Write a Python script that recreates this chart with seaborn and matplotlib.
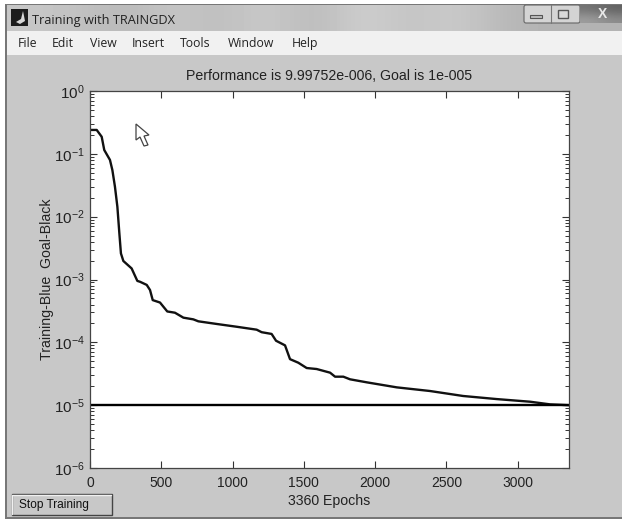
import numpy as np
import seaborn as sns
import pandas as pd
import matplotlib.pyplot as plt
from matplotlib.patches import Rectangle, Polygon, FancyBboxPatch

# values
epochs = [0, 47, 82, 100, 140, 157, 175, 192, 206, 217, 234, 292, 332, 351, 398, 421, 440, 491,
          542, 596, 655, 725, 760, 889, 1029, 1169, 1204, 1274, 1305, 1368, 1403, 1461, 1520,
          1590, 1684, 1719, 1777, 1824, 1941, 2152, 2385, 2617, 2853, 3087, 3227, 3360]
perf = [0.24, 0.24, 0.187, 0.115, 0.08, 0.055, 0.03, 0.0144, 0.0054, 0.0026, 0.00197, 0.0015,
        0.00095, 9.2e-4, 8.2e-4, 6.8e-4, 4.7e-4, 4.3e-4, 3.1e-4, 2.96e-4, 2.47e-4, 2.32e-4,
        2.16e-4, 1.96e-4, 1.77e-4, 1.59e-4, 1.45e-4, 1.36e-4, 1.06e-4, 8.95e-5, 5.4e-5, 4.74e-5,
        3.9e-5, 3.76e-5, 3.29e-5, 2.84e-5, 2.84e-5, 2.58e-5, 2.31e-5, 1.92e-5, 1.68e-5, 1.4e-5,
        1.25e-5, 1.135e-5, 1.03e-5, 9.99752e-6]
goal_x = [0, 3360]
goal_y = [1e-5, 1e-5]
xticks = [0, 500, 1000, 1500, 2000, 2500, 3000]
yticks = [1e-6, 1e-5, 1e-4, 1e-3, 1e-2, 1e-1, 1]
menu_names = ['File', 'Edit', 'View', 'Insert', 'Tools', 'Window', 'Help']
menu_x = [18, 52, 90, 132, 180, 228, 292]

sns.set_style('ticks')
plt.rcParams['font.family'] = ['Liberation Sans', 'DejaVu Sans']
plt.rcParams['mathtext.fontset'] = 'custom'
plt.rcParams['mathtext.rm'] = 'Liberation Sans'
plt.rcParams['mathtext.default'] = 'regular'

fig = plt.figure(figsize=(6.22, 5.21), dpi=100, facecolor='white')

# window chrome, drawn in pixel coordinates
bg = fig.add_axes([0, 0, 1, 1], zorder=0)
bg.axis('off')

bg.add_patch(Rectangle((5, 4), 617, 515, fc='#777777', ec='none', zorder=1))
bar = np.array([[0.78, 0.76, 0.72, 0.78, 0.74, 0.80, 0.72, 0.82, 0.76, 0.80, 0.72, 0.70, 0.70]])
bg.imshow(bar, cmap='gray', vmin=0, vmax=1, extent=(7, 622, 31, 5), aspect='auto', interpolation='bicubic', zorder=2)
bg.set_xlim(0, 622)
bg.set_ylim(521, 0)
bg.add_patch(Rectangle((7, 31), 615, 24, fc='#f1f1f1', ec='none', zorder=2))
bg.add_patch(Rectangle((7, 55), 615, 462, fc='#c8c8c8', ec='none', zorder=2))

bg.add_patch(Rectangle((11, 9), 17, 17, fc='#1c1c1c', ec='none', zorder=3))
bg.add_patch(Polygon([(16, 22), (21, 19), (23, 11), (25, 21), (20, 24)], fc='#d8d8d8', ec='none', zorder=4))
bg.text(32, 24, 'Training with TRAINGDX', fontsize=9.2, family='Open Sans', color='#222222', va='baseline', zorder=4)
for name, x in zip(menu_names, menu_x):
    bg.text(x, 47, name, fontsize=8.8, family='Open Sans', color='#222222', va='baseline', zorder=4)

# min / max / close buttons
bg.add_patch(FancyBboxPatch((524, 5), 56, 18, boxstyle='round,pad=0,rounding_size=2', fc='#d4d4d4', ec='#666666', lw=0.8, zorder=3))
bg.plot([551, 551], [5, 23], color='#777777', lw=0.8, zorder=4)
bg.add_patch(Rectangle((530, 15), 12, 3, fc='#bdbdbd', ec='#555555', lw=0.8, zorder=4))
bg.add_patch(Rectangle((558, 10), 10, 8, fc='#d8d8d8', ec='#555555', lw=1, zorder=4))
close = np.array([[0.45, 0.38], [0.62, 0.55]])
bg.imshow(close, cmap='gray', vmin=0, vmax=1, extent=(580, 622, 23, 5), aspect='auto', interpolation='bicubic', zorder=3)
bg.set_xlim(0, 622)
bg.set_ylim(521, 0)
bg.text(603, 13.5, 'X', fontsize=10, weight='bold', color='#e8e8e8', ha='center', va='center', zorder=4)

# stop button
bg.add_patch(Rectangle((12, 494), 100, 21, fc='#c8c8c8', ec='#444444', lw=1, zorder=3))
bg.plot([12, 12, 111], [514, 494.5, 494.5], color='#f0f0f0', lw=1, zorder=4)
bg.text(54, 505, 'Stop Training', fontsize=8.6, color='#111111', ha='center', va='center', zorder=4)

# main plot
left, right, top, bottom = 90, 569, 91, 468
ax = fig.add_axes([left / 622, 1 - bottom / 521, (right - left) / 622, (bottom - top) / 521], zorder=1)
ax.set_facecolor('white')
df = pd.DataFrame({'epoch': epochs, 'perf': perf})
sns.lineplot(data=df, x='epoch', y='perf', color='#111111', lw=1.7, ax=ax, errorbar=None, estimator=None)
sns.lineplot(x=goal_x, y=goal_y, color='#000000', lw=1.7, ax=ax, errorbar=None, estimator=None)
ax.set_yscale('log')
ax.set_xlim(0, 3360)
ax.set_yticks(yticks)
ax.set_ylim(1e-6, 1)
ax.set_xticks(xticks)
ax.tick_params(which='major', direction='in', top=True, right=True, length=5, width=0.8, color='#333333',
               labelsize=10, labelcolor='#222222')
ax.tick_params(which='minor', direction='in', left=True, right=True, length=3, width=0.7, color='#333333')
ax.tick_params(axis='x', pad=6)
ax.tick_params(axis='y', pad=4, labelsize=11)
for s in ax.spines.values():
    s.set_color('#444444')
    s.set_linewidth(0.9)
ax.set_xlabel('3360 Epochs', fontsize=10.2, color='#222222', labelpad=3)
ax.set_ylabel('Training-Blue  Goal-Black', fontsize=10.2, color='#222222', labelpad=0)
ax.set_title('Performance is 9.99752e-006, Goal is 1e-005', fontsize=10.2, color='#222222', pad=8)

# mouse pointer
fig.add_artist(Polygon([(136, 124), (136, 140), (140, 137), (144, 146), (148, 145), (144, 136), (149, 135)],
                       closed=True, fc='white', ec='#444444', lw=0.9, transform=bg.transData, zorder=5))

fig.savefig('out.png', dpi=100)
